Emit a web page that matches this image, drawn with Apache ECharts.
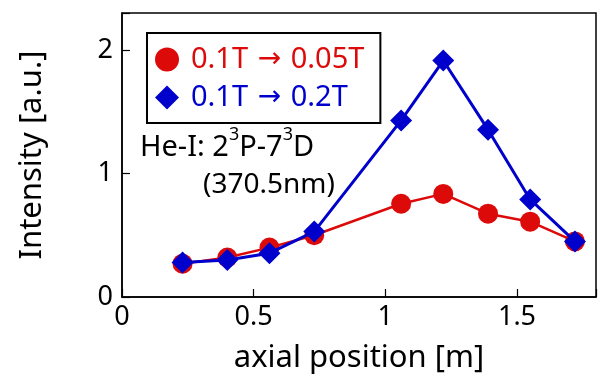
<!DOCTYPE html>
<html>
<head>
<meta charset="utf-8">
<script src="https://cdn.jsdelivr.net/npm/echarts@6/dist/echarts.min.js"></script>
<style>
  html, body { margin: 0; padding: 0; background: #fff; }
  #chart { width: 599px; height: 379px; }
</style>
</head>
<body>
<div id="chart"></div>
<script>
// axial positions [m]
const positions = [0.23, 0.40, 0.56, 0.73, 1.06, 1.22, 1.39, 1.55, 1.72];
// intensity [a.u.]
const down005 = [0.27, 0.32, 0.40, 0.50, 0.755, 0.835, 0.675, 0.61, 0.45];
const up02 = [0.28, 0.30, 0.355, 0.53, 1.43, 1.915, 1.355, 0.79, 0.45];
const seriesNames = ['0.1T \u2192 0.05T', '0.1T \u2192 0.2T'];
const xTicks = [0, 0.5, 1, 1.5];
const yTicks = [0, 1, 2];

const red = '#dd0a0a';
const blue = '#0000cc';
const font = 'Noto Sans';

function pairs(ys) {
  return positions.map((x, i) => [x, ys[i]]);
}

const chart = echarts.init(document.getElementById('chart'));
chart.setOption({
  animation: false,
  textStyle: { fontFamily: font },
  grid: {
    left: 122, right: 2, top: 13, bottom: 80,
    show: true, borderColor: '#000', borderWidth: 1.5
  },
  xAxis: {
    type: 'value', min: 0, max: 1.8, interval: 0.5,
    name: 'axial position [m]', nameLocation: 'middle', nameGap: 46,
    nameTextStyle: { fontSize: 31, color: '#000', fontFamily: font },
    axisLine: { show: true, onZero: false, lineStyle: { color: '#000', width: 1.5 } },
    axisTick: { inside: true, length: 8, lineStyle: { color: '#000', width: 1.2 } },
    axisLabel: {
      fontSize: 27, color: '#000', margin: 7, fontFamily: font,
      formatter: v => xTicks.includes(v) ? String(v) : ''
    },
    splitLine: { show: false }
  },
  yAxis: {
    type: 'value', min: 0, max: 2.3, interval: 1,
    name: 'Intensity [a.u.]', nameLocation: 'middle', nameGap: 74,
    nameTextStyle: { fontSize: 31, color: '#000', fontFamily: font },
    axisLine: { show: true, lineStyle: { color: '#000', width: 1.5 } },
    axisTick: { inside: true, length: 8, lineStyle: { color: '#000', width: 1.2 } },
    axisLabel: {
      fontSize: 27, color: '#000', margin: 9, fontFamily: font,
      formatter: v => yTicks.includes(v) ? String(v) : ''
    },
    splitLine: { show: false }
  },
  legend: {
    orient: 'vertical', left: 147, top: 33,
    padding: [12, 16, 11, 8], itemGap: 9,
    itemWidth: 24, itemHeight: 24,
    borderColor: '#000', borderWidth: 2, backgroundColor: '#fff',
    formatter: name => name.split(' \u2192 ').join('{r|\u2009\u2192\u2009}'),
    textStyle: {
      fontSize: 29, fontFamily: font, padding: [0, 0, 0, 7],
      rich: { r: { fontSize: 28, fontFamily: 'DejaVu Sans', padding: [0, 4, 0, 4] } }
    },
    data: [
      { name: seriesNames[0], icon: 'circle', textStyle: { color: red } },
      { name: seriesNames[1], icon: 'diamond', textStyle: { color: blue } }
    ]
  },
  graphic: [
    {
      type: 'text', left: 140, top: 126,
      style: {
        text: '{n|He-I: 2}{s|3}{n|P-7}{s|3}{n|D}',
        rich: {
          n: { fontSize: 29, fontFamily: font, fill: '#000', verticalAlign: 'bottom', lineHeight: 36 },
          s: { fontSize: 18, fontFamily: font, fill: '#000', verticalAlign: 'top', lineHeight: 36 }
        }
      }
    },
    {
      type: 'text', left: 203, top: 171,
      style: { text: '(370.5nm)', fontSize: 28, fontFamily: font, fill: '#000' }
    }
  ],
  series: [
    {
      name: seriesNames[0], type: 'line', data: pairs(down005),
      symbol: 'circle', symbolSize: 20,
      itemStyle: { color: red },
      lineStyle: { color: red, width: 2.5 },
      z: 2
    },
    {
      name: seriesNames[1], type: 'line', data: pairs(up02),
      symbol: 'diamond', symbolSize: 22,
      itemStyle: { color: blue },
      lineStyle: { color: blue, width: 3 },
      z: 3
    }
  ]
});
</script>
</body>
</html>
